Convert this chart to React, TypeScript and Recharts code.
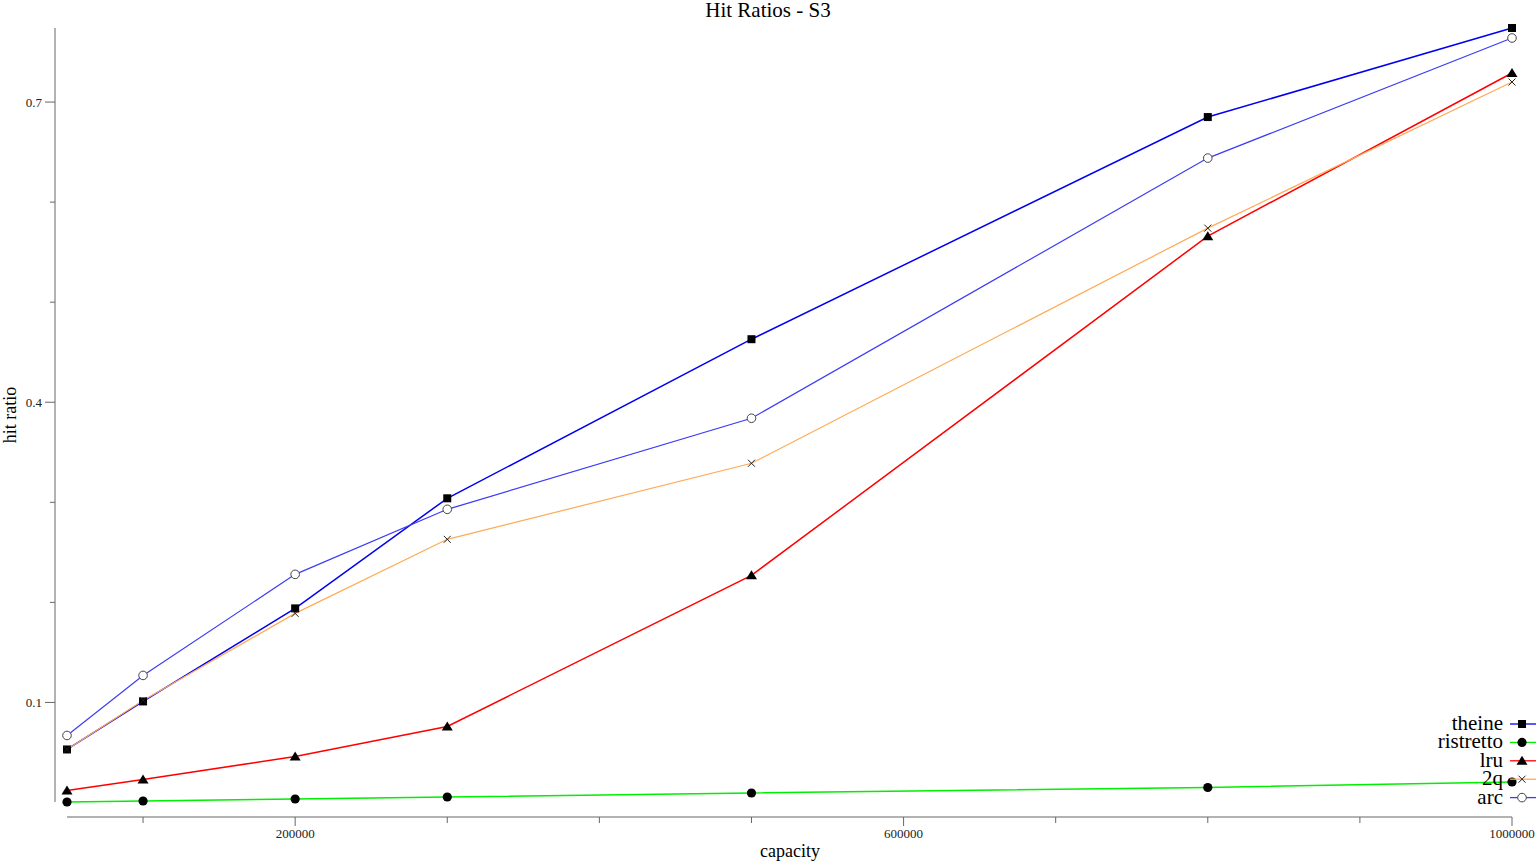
import React from 'react';
import { LineChart, Line, XAxis, YAxis, Legend } from 'recharts';

const capacities = [50000, 100000, 200000, 300000, 500000, 800000, 1000000];
const theine = [0.053, 0.101, 0.194, 0.304, 0.463, 0.685, 0.774];
const ristretto = [0.0005, 0.0015, 0.0035, 0.0055, 0.0095, 0.015, 0.0205];
const lru = [0.012, 0.023, 0.046, 0.076, 0.227, 0.566, 0.729];
const twoQ = [0.053, 0.102, 0.189, 0.263, 0.339, 0.574, 0.72];
const arc = [0.067, 0.127, 0.228, 0.293, 0.384, 0.644, 0.764];

const xTicks = [100000, 200000, 300000, 400000, 500000, 600000, 700000, 800000, 900000, 1000000];
const xLabeledTicks = [200000, 600000, 1000000];
const yTicks = [0.1, 0.2, 0.3, 0.4, 0.5, 0.6, 0.7];
const yLabeledTicks = [0.1, 0.4, 0.7];

const seriesNames = ['theine', 'ristretto', 'lru', '2q', 'arc'];
const seriesValues = [theine, ristretto, lru, twoQ, arc];
const seriesColors = ['#0000f0', '#00ee00', '#ff0000', '#ffaa55', '#3c3cf5'];
const seriesWidths = [1.5, 1.5, 1.5, 1.2, 1.2];
const seriesShapes = ['square', 'circle', 'triangle', 'cross', 'ring'];

const data = capacities.map((c, i) => {
  const row: Record<string, number> = { capacity: c };
  seriesNames.forEach((n, s) => {
    row[n] = seriesValues[s][i];
  });
  return row;
});

const allValues = seriesValues.flat();
const yMin = Math.min(...allValues);
const yMax = Math.max(...allValues);

const FONT = "'Liberation Serif', 'DejaVu Serif', serif";
const AXIS = '#666666';

function Marker({ shape, cx, cy }: { shape: string; cx: number; cy: number }) {
  if (cx == null || cy == null || isNaN(cx) || isNaN(cy)) return null;
  switch (shape) {
    case 'square':
      return <rect x={cx - 4} y={cy - 4} width={8} height={8} fill="#000" />;
    case 'circle':
      return <circle cx={cx} cy={cy} r={4.6} fill="#000" />;
    case 'triangle':
      return (
        <polygon
          points={`${cx},${cy - 5} ${cx - 5.5},${cy + 4} ${cx + 5.5},${cy + 4}`}
          fill="#000"
        />
      );
    case 'cross':
      return (
        <g stroke="#222" strokeWidth={1}>
          <line x1={cx - 3.5} y1={cy - 3.5} x2={cx + 3.5} y2={cy + 3.5} />
          <line x1={cx - 3.5} y1={cy + 3.5} x2={cx + 3.5} y2={cy - 3.5} />
        </g>
      );
    case 'ring':
      return <circle cx={cx} cy={cy} r={4.3} fill="#fff" stroke="#444" strokeWidth={1} />;
    default:
      return null;
  }
}

const XTick = (props: any) => {
  const { x, y, payload } = props;
  const major = xLabeledTicks.includes(payload.value);
  return (
    <g>
      <line x1={x} y1={y} x2={x} y2={y + (major ? 9 : 6)} stroke={AXIS} strokeWidth={1} />
      {major && (
        <text x={x} y={y + 21} textAnchor="middle" fontFamily={FONT} fontSize={13} fill="#222">
          {payload.value}
        </text>
      )}
    </g>
  );
};

const YTick = (props: any) => {
  const { x, y, payload } = props;
  const major = yLabeledTicks.includes(payload.value);
  return (
    <g>
      <line x1={x - (major ? 10 : 5)} y1={y} x2={x} y2={y} stroke={AXIS} strokeWidth={1} />
      {major && (
        <text x={x - 13} y={y + 4.5} textAnchor="end" fontFamily={FONT} fontSize={13} fill="#222">
          {payload.value}
        </text>
      )}
    </g>
  );
};

const renderLegend = (props: any) => {
  const payload = [...(props.payload || [])].sort(
    (a: any, b: any) => seriesNames.indexOf(a.value) - seriesNames.indexOf(b.value)
  );
  return (
    <svg width={136} height={100} style={{ display: 'block' }}>
      {payload.map((entry: any, i: number) => {
        const idx = seriesNames.indexOf(entry.value);
        const cy = 11 + i * 18.4;
        return (
          <g key={entry.value}>
            <text
              x={103}
              y={cy + 6}
              textAnchor="end"
              fontFamily={FONT}
              fontSize={21}
              fill="#000"
            >
              {entry.value}
            </text>
            <line x1={110} y1={cy} x2={136} y2={cy} stroke={seriesColors[idx]} strokeWidth={1.3} />
            <Marker shape={seriesShapes[idx]} cx={122} cy={cy} />
          </g>
        );
      })}
    </svg>
  );
};

export default function App() {
  return (
    <div style={{ position: 'absolute', left: 0, top: 0, width: 1536, height: 864, background: '#fff' }}>
      <LineChart
        width={1536}
        height={864}
        data={data}
        margin={{ top: 28, right: 24, left: 10, bottom: 17 }}
      >
        <XAxis
          dataKey="capacity"
          type="number"
          domain={['dataMin', 'dataMax']}
          ticks={xTicks}
          interval={0}
          tickLine={false}
          tickSize={0}
          tickMargin={0}
          tick={<XTick />}
          axisLine={{ stroke: AXIS, strokeWidth: 1, strokeDasharray: '0 12 1445 200' }}
          padding={{ left: 12, right: 0 }}
          height={30}
        />
        <YAxis
          type="number"
          domain={[yMin, yMax]}
          ticks={yTicks}
          interval={0}
          tickLine={false}
          tickSize={0}
          tickMargin={0}
          tick={<YTick />}
          axisLine={{ stroke: AXIS, strokeWidth: 1, strokeDasharray: '774 200' }}
          padding={{ top: 0, bottom: 15 }}
          width={45}
        />
        <Legend
          layout="vertical"
          align="center"
          verticalAlign="middle"
          content={renderLegend}
          wrapperStyle={{ position: 'absolute', left: 1400, top: 713, width: 136, height: 100 }}
        />
        {seriesNames.map((name, s) => (
          <Line
            key={name}
            type="linear"
            dataKey={name}
            name={name}
            stroke={seriesColors[s]}
            strokeWidth={seriesWidths[s]}
            isAnimationActive={false}
            activeDot={false}
            dot={(p: any) => <Marker key={`${name}-${p.index}`} shape={seriesShapes[s]} cx={p.cx} cy={p.cy} />}
          />
        ))}
      </LineChart>
      <svg
        width={1536}
        height={864}
        style={{ position: 'absolute', left: 0, top: 0, pointerEvents: 'none' }}
      >
        <text x={768} y={17} textAnchor="middle" fontFamily={FONT} fontSize={21} fill="#000">
          Hit Ratios - S3
        </text>
        <text x={790} y={857} textAnchor="middle" fontFamily={FONT} fontSize={18} fill="#000">
          capacity
        </text>
        <text
          x={0}
          y={0}
          transform="translate(16,415) rotate(-90)"
          textAnchor="middle"
          fontFamily={FONT}
          fontSize={18}
          fill="#000"
        >
          hit ratio
        </text>
      </svg>
    </div>
  );
}
